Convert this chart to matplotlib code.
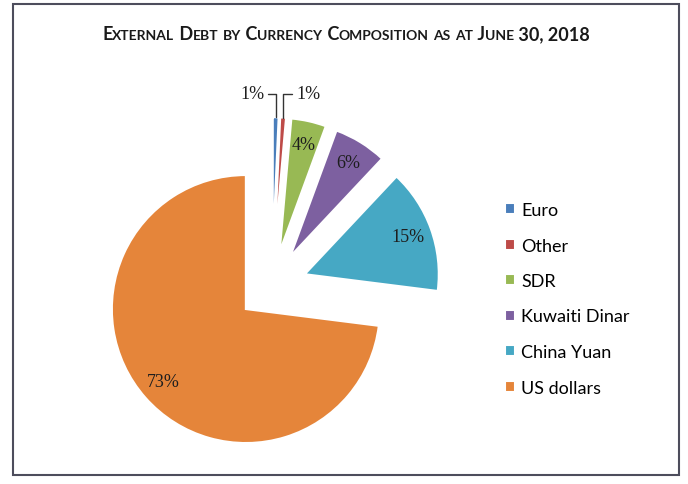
import numpy as np
import matplotlib
matplotlib.use('Agg')
import matplotlib.pyplot as plt
from matplotlib.patches import Rectangle

# Datos do grafico
categorias = ['Euro', 'Other', 'SDR', 'Kuwaiti Dinar', 'China Yuan', 'US dollars']
valores = [0.7, 0.7, 4.2, 6.4, 15.0, 73.0]
cores = ['#4a7ebb', '#be4b48', '#98b954', '#7d60a0', '#46a8c4', '#e5853a']
titulo = 'External Debt by Currency Composition as at June 30, 2018'

W, H = 688, 485
CX, CY, R = 272, 287, 134   # centro e raio da pizza em pixels

fig = plt.figure(figsize=(W / 100, H / 100), dpi=100)
ax = fig.add_axes([0, 0, 1, 1])

wedges, texts, autotexts = ax.pie(
    valores, colors=cores, startangle=90, counterclock=False,
    explode=[0.26] * len(valores), autopct='%.0f%%', pctdistance=0.82,
    wedgeprops=dict(edgecolor='white', linewidth=1.5),
    textprops=dict(family='Liberation Serif', fontsize=13, color='#1e1e1e'))

ax.set_xlim(-CX / R, (W - CX) / R)
ax.set_ylim((CY - H) / R, CY / R)
ax.axis('off')

# Rotulos dos dois menores setores ficam fora, com linha guia
pos_rotulos = [(252, 95), (308, 95)]
for i, (px, py) in enumerate(pos_rotulos):
    autotexts[i].set_visible(False)
    w = wedges[i]
    meio = np.deg2rad((w.theta1 + w.theta2) / 2)
    ponta = (w.center[0] + w.r * np.cos(meio), w.center[1] + w.r * np.sin(meio))
    ax.annotate('%.0f%%' % valores[i], xy=ponta,
                xytext=((px - CX) / R, (CY - py) / R),
                ha='center', va='center', family='Liberation Serif',
                fontsize=13, color='#1e1e1e',
                arrowprops=dict(arrowstyle='-', color='#333333', lw=1,
                                shrinkA=1, shrinkB=0,
                                connectionstyle='angle,angleA=0,angleB=90,rad=0'))

# Legenda
fig.legend(wedges, categorias, loc='upper left',
           bbox_to_anchor=(505 / W, 1 - 203 / H), frameon=False,
           prop=dict(family='Lato', size=13), handlelength=0.55,
           handleheight=0.55, handletextpad=0.35, labelspacing=1.08,
           borderpad=0, borderaxespad=0)

# Titulo em versalete (imitado com dois tamanhos)
pedacos = []
for ch in titulo:
    grande = not ch.islower()
    if pedacos and pedacos[-1][1] == grande:
        pedacos[-1][0] += ch.upper()
    else:
        pedacos.append([ch.upper(), grande])

renderer = fig.canvas.get_renderer()
objs = []
larg = 0
for s, grande in pedacos:
    t = fig.text(0, 0, s, fontsize=13 if grande else 10, fontweight='bold',
                 family='Lato', color='#1a1a1a', ha='left', va='baseline')
    bb = t.get_window_extent(renderer)
    objs.append((t, bb.width))
    larg += bb.width
x = (346 - larg / 2)
for t, wd in objs:
    t.set_position((x / W, 1 - 40 / H))
    x += wd

# Moldura
fig.patches.append(Rectangle((13 / W, 1 - 476 / H), 666 / W, 471 / H,
                             transform=fig.transFigure, fill=False,
                             edgecolor='#4d4d5c', linewidth=1.5))

fig.savefig('out.png', dpi=100)
